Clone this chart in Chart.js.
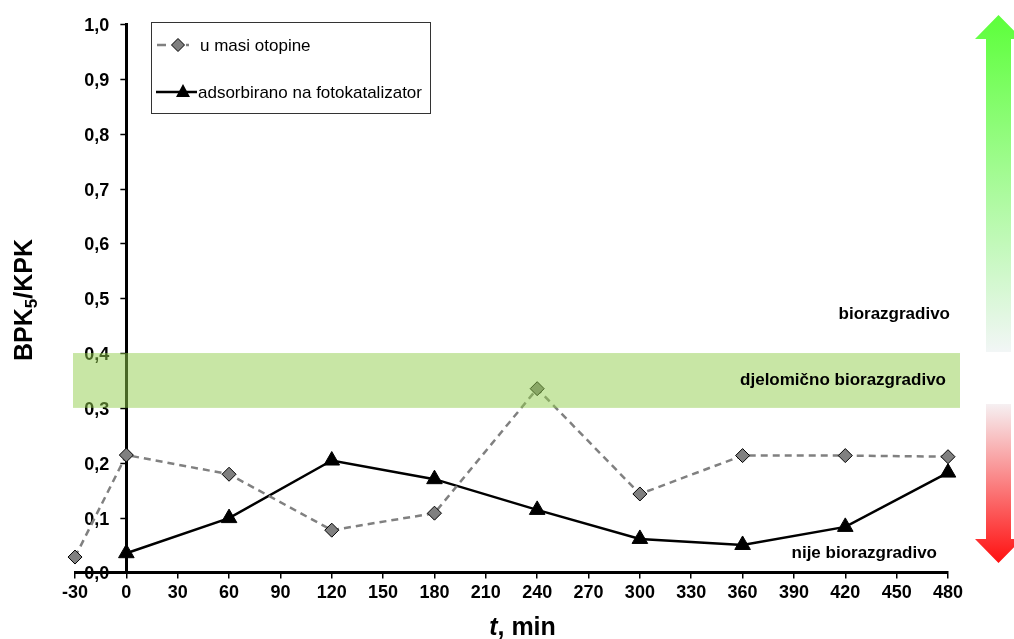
<!DOCTYPE html>
<html>
<head>
<meta charset="utf-8">
<script src="https://cdn.jsdelivr.net/npm/chart.js@4.4.1/dist/chart.umd.min.js"></script>
<style>
  html, body { margin: 0; padding: 0; background: #fff; }
  #wrap { width: 1014px; height: 639px; }
</style>
</head>
<body>
<div id="wrap"><canvas id="myChart"></canvas></div>
<script>
// vremena uzorkovanja, min
const times = [-30, 0, 60, 120, 180, 240, 300, 360, 420, 480];
const timesAds = [0, 60, 120, 180, 240, 300, 360, 420, 480];
// BPK5/KPK
const otopina = [0.028, 0.214, 0.179, 0.077, 0.108, 0.335, 0.143, 0.213, 0.213, 0.211];
const adsorbirano = [0.035, 0.099, 0.204, 0.170, 0.114, 0.061, 0.050, 0.083, 0.182];
const seriesNames = ['u masi otopine', 'adsorbirano na fotokatalizator'];
const zoneNames = ['biorazgradivo', 'djelomično biorazgradivo', 'nije biorazgradivo'];
const band = [0.3, 0.4];

const FONT = "'Liberation Sans', Arial, sans-serif";
const fmt = (v) => v.toFixed(1).replace('.', ',');

const toPoints = (xs, ys) => xs.map((x, i) => ({ x: x, y: ys[i] }));

// y axis sits at t = 0, its ticks and labels are drawn on the left of it
const yAxisAtZero = {
  id: 'yAxisAtZero',
  beforeDatasetsDraw(chart) {
    const c = chart.ctx;
    const ys = chart.scales.y;
    const ax = chart.scales.x.getPixelForValue(0);
    c.save();
    c.strokeStyle = '#000';
    c.lineWidth = 1.5;
    c.fillStyle = '#000';
    c.font = 'bold 18px ' + FONT;
    c.textAlign = 'right';
    c.textBaseline = 'middle';
    ys.ticks.forEach((t) => {
      const py = Math.round(ys.getPixelForValue(t.value)) + 0.5;
      c.beginPath();
      c.moveTo(ax - 6, py);
      c.lineTo(ax, py);
      c.stroke();
      c.fillText(fmt(t.value), ax - 17, py + 2);
    });
    c.restore();
  }
};

const decor = {
  id: 'decor',
  afterDatasetsDraw(chart) {
    const c = chart.ctx;
    const xs = chart.scales.x, ys = chart.scales.y;
    const area = chart.chartArea;

    // green band for "djelomično biorazgradivo"
    c.save();
    c.fillStyle = 'rgba(145, 205, 75, 0.5)';
    const bx = xs.getPixelForValue(-30) - 2;
    const by = ys.getPixelForValue(band[1]);
    c.fillRect(bx, by, area.right + 12 - bx, ys.getPixelForValue(band[0]) - by);
    c.restore();

    // zone labels
    c.save();
    c.font = 'bold 17px ' + FONT;
    c.fillStyle = '#000';
    c.textAlign = 'right';
    c.textBaseline = 'middle';
    c.fillText(zoneNames[0], area.right + 2, ys.getPixelForValue(0.47));
    c.fillText(zoneNames[1], area.right - 2, ys.getPixelForValue(0.35));
    c.fillText(zoneNames[2], area.right - 11, ys.getPixelForValue(0.035));
    c.restore();

    // arrows
    const arrow = (top, bottom, up, c0, c1) => {
      const cx = 998.5, sw = 12.5, hw = 23.5, hh = 24;
      const g = c.createLinearGradient(0, top, 0, bottom);
      g.addColorStop(0, c0);
      g.addColorStop(1, c1);
      c.save();
      c.fillStyle = g;
      c.beginPath();
      if (up) {
        c.moveTo(cx, top);
        c.lineTo(cx + hw, top + hh);
        c.lineTo(cx + sw, top + hh);
        c.lineTo(cx + sw, bottom);
        c.lineTo(cx - sw, bottom);
        c.lineTo(cx - sw, top + hh);
        c.lineTo(cx - hw, top + hh);
      } else {
        c.moveTo(cx - sw, top);
        c.lineTo(cx + sw, top);
        c.lineTo(cx + sw, bottom - hh);
        c.lineTo(cx + hw, bottom - hh);
        c.lineTo(cx, bottom);
        c.lineTo(cx - hw, bottom - hh);
        c.lineTo(cx - sw, bottom - hh);
      }
      c.closePath();
      c.fill();
      c.restore();
    };
    arrow(15, 352, true, '#5cff3a', '#f2f6f6');
    arrow(404, 563, false, '#f6f0f2', '#ff1010');

    // legend
    const ds = chart.data.datasets;
    c.save();
    c.fillStyle = '#fff';
    c.fillRect(151.5, 22.5, 279, 91);
    c.strokeStyle = '#333';
    c.lineWidth = 1;
    c.strokeRect(151.5, 22.5, 279, 91);
    c.font = '17px ' + FONT;
    c.textBaseline = 'middle';
    // series 1
    c.strokeStyle = ds[0].borderColor;
    c.lineWidth = 2.5;
    c.beginPath(); c.moveTo(157, 45); c.lineTo(166, 45); c.moveTo(186, 45); c.lineTo(189, 45); c.stroke();
    c.fillStyle = ds[0].pointBackgroundColor;
    c.strokeStyle = '#000';
    c.lineWidth = 1;
    c.beginPath();
    c.moveTo(178, 38.5); c.lineTo(184.5, 45); c.lineTo(178, 51.5); c.lineTo(171.5, 45); c.closePath();
    c.fill(); c.stroke();
    c.fillStyle = '#000';
    c.fillText(ds[0].label, 200, 46);
    // series 2
    c.strokeStyle = ds[1].borderColor;
    c.lineWidth = 2.5;
    c.beginPath(); c.moveTo(156, 92); c.lineTo(197, 92); c.stroke();
    c.fillStyle = '#000';
    c.beginPath();
    c.moveTo(183, 84); c.lineTo(190, 97); c.lineTo(176, 97); c.closePath();
    c.fill();
    c.fillText(ds[1].label, 198, 93);
    c.restore();

    // y axis title BPK5/KPK
    c.save();
    c.translate(25, 300);
    c.rotate(-Math.PI / 2);
    c.fillStyle = '#000';
    c.textBaseline = 'alphabetic';
    c.textAlign = 'left';
    const big = 'bold 25px ' + FONT, small = 'bold 17px ' + FONT;
    c.font = big; const w1 = c.measureText('BPK').width; const w3 = c.measureText('/KPK').width;
    c.font = small; const w2 = c.measureText('5').width;
    const x0 = -(w1 + w2 + w3) / 2;
    c.font = big; c.fillText('BPK', x0, 7);
    c.font = small; c.fillText('5', x0 + w1, 12);
    c.font = big; c.fillText('/KPK', x0 + w1 + w2, 7);
    c.restore();

    // x axis title: t, min
    c.save();
    c.fillStyle = '#000';
    c.textBaseline = 'alphabetic';
    c.textAlign = 'left';
    c.font = 'italic bold 25px ' + FONT; const tw = c.measureText('t').width;
    c.font = 'bold 25px ' + FONT; const rw = c.measureText(', min').width;
    const sx = 522.5 - (tw + rw) / 2;
    c.font = 'italic bold 25px ' + FONT; c.fillText('t', sx, 635);
    c.font = 'bold 25px ' + FONT; c.fillText(', min', sx + tw, 635);
    c.restore();
  }
};

const tickFont = { family: FONT, size: 18, weight: 'bold' };

new Chart(document.getElementById('myChart'), {
  type: 'line',
  data: {
    datasets: [{
      label: seriesNames[0],
      data: toPoints(times, otopina),
      borderColor: '#808080',
      borderWidth: 2.5,
      borderDash: [7, 5],
      pointStyle: 'rectRot',
      pointRadius: 7,
      pointBackgroundColor: '#808080',
      pointBorderColor: '#000',
      pointBorderWidth: 1,
      tension: 0,
      clip: false,
    }, {
      label: seriesNames[1],
      data: toPoints(timesAds, adsorbirano),
      borderColor: '#000',
      borderWidth: 2.5,
      pointStyle: 'triangle',
      pointRadius: 9,
      pointBackgroundColor: '#000',
      pointBorderColor: '#000',
      pointBorderWidth: 1,
      tension: 0,
      clip: false,
    }],
  },
  options: {
    responsive: true,
    maintainAspectRatio: false,
    animation: false,
    events: [],
    layout: { padding: { left: 75, right: 66, top: 24, bottom: 31 } },
    plugins: {
      legend: { display: false },
      tooltip: { enabled: false },
    },
    scales: {
      x: {
        type: 'linear',
        min: -30,
        max: 480,
        ticks: { stepSize: 30, font: tickFont, color: '#000', padding: 4, maxRotation: 0, autoSkip: false },
        grid: { drawOnChartArea: false, drawTicks: true, tickLength: 6, color: '#000', lineWidth: 1.5 },
        border: { color: '#000', width: 3 },
      },
      y: {
        type: 'linear',
        position: { x: 0 },
        min: 0,
        max: 1,
        ticks: { stepSize: 0.1, display: false },
        grid: { drawOnChartArea: false, drawTicks: false },
        border: { color: '#000', width: 3 },
      },
    },
  },
  plugins: [yAxisAtZero, decor],
});
</script>
</body>
</html>
